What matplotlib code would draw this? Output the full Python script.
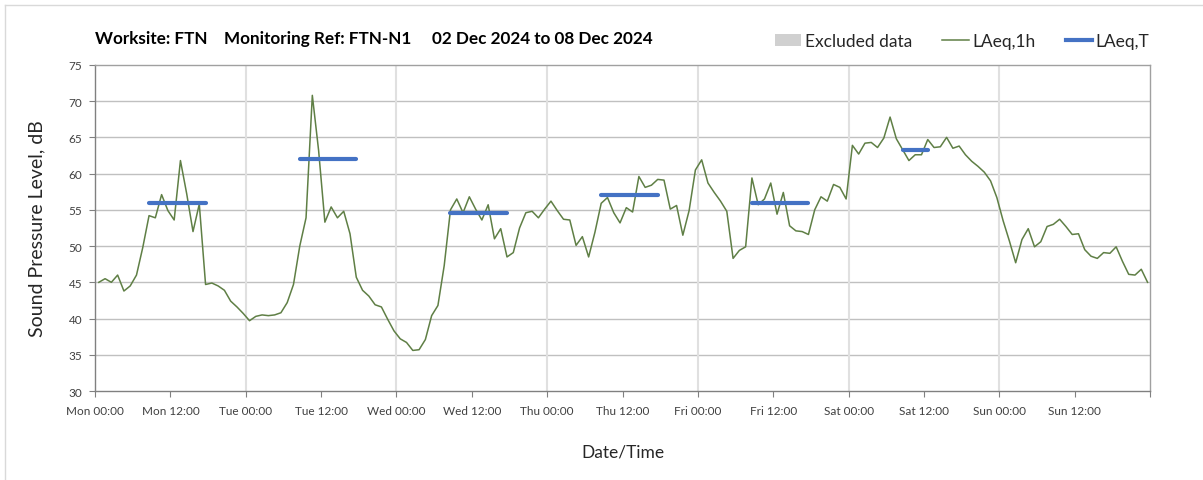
import numpy as np
import matplotlib
matplotlib.use("Agg")
import matplotlib.pyplot as plt
from matplotlib.patches import Patch
from matplotlib.lines import Line2D

# hourly LAeq,1h readings (dB), one list per day
mon = [45.0, 45.5, 45.0, 46.0, 43.8, 44.5, 46.0, 49.8, 54.2, 53.9, 57.1, 54.9,
       53.6, 61.8, 57.2, 52.0, 55.8, 44.7, 44.9, 44.5, 43.9, 42.4, 41.6, 40.7]
tue = [39.7, 40.3, 40.5, 40.4, 40.5, 40.8, 42.2, 44.7, 50.0, 53.9, 70.8, 63.2,
       53.3, 55.4, 53.9, 54.8, 51.7, 45.7, 43.9, 43.1, 41.9, 41.6, 39.9, 38.3]
wed = [37.2, 36.7, 35.6, 35.7, 37.1, 40.4, 41.8, 47.3, 55.0, 56.5, 54.6, 56.8,
       55.1, 53.6, 55.7, 51.0, 52.4, 48.5, 49.1, 52.5, 54.6, 54.8, 53.9, 55.1]
thu = [56.2, 54.9, 53.7, 53.6, 50.1, 51.3, 48.5, 51.9, 55.9, 56.7, 54.6, 53.2,
       55.3, 54.7, 59.6, 58.1, 58.4, 59.2, 59.1, 55.1, 55.6, 51.5, 54.9, 60.5]
fri = [61.9, 58.7, 57.4, 56.2, 54.8, 48.3, 49.4, 49.9, 59.4, 55.7, 56.5, 58.7,
       54.4, 57.4, 52.8, 52.1, 52.0, 51.6, 55.0, 56.8, 56.2, 58.5, 58.1, 56.5]
sat = [63.9, 62.7, 64.2, 64.3, 63.6, 64.9, 67.8, 64.8, 63.3, 61.8, 62.6, 62.6,
       64.7, 63.6, 63.7, 65.0, 63.5, 63.8, 62.6, 61.7, 61.0, 60.2, 59.0, 56.7]
sun = [53.5, 50.7, 47.7, 50.9, 52.4, 49.9, 50.6, 52.7, 53.0, 53.7, 52.7, 51.6,
       51.7, 49.5, 48.6, 48.3, 49.1, 49.0, 49.9, 47.9, 46.1, 46.0, 46.8, 45.0]

# LAeq,T over the working period of each day
laeqT_day = [0, 1, 2, 3, 4, 5]
laeqT_value = [56.0, 62.0, 54.5, 57.1, 55.9, 63.2]
laeqT_first_hour = [8, 8, 8, 8, 8, 8]
laeqT_last_hour = [17, 17, 17, 17, 17, 12]

tick_labels = ["Mon 00:00", "Mon 12:00", "Tue 00:00", "Tue 12:00", "Wed 00:00",
               "Wed 12:00", "Thu 00:00", "Thu 12:00", "Fri 00:00", "Fri 12:00",
               "Sat 00:00", "Sat 12:00", "Sun 00:00", "Sun 12:00", ""]

laeq_1h = np.array(mon + tue + wed + thu + fri + sat + sun)
hours = np.arange(len(laeq_1h)) + 0.6

plt.rcParams['font.family'] = ['Lato', 'DejaVu Sans']

fig = plt.figure(figsize=(12.03, 4.81), dpi=100)
ax = fig.add_axes([0.079, 0.185, 0.877, 0.678])

ax.plot(hours, laeq_1h, color='#5f7f45', lw=1.1, zorder=3)
for d, v, h0, h1 in zip(laeqT_day, laeqT_value, laeqT_first_hour, laeqT_last_hour):
    ax.plot([d * 24 + h0 + 0.6, d * 24 + h1 + 0.6], [v, v], color='#4472C4',
            lw=3, solid_capstyle='round', zorder=4)

ax.set_xlim(0, 168)
ax.set_ylim(30, 75)
ax.set_yticks(np.arange(30, 76, 5))
ax.set_xticks(np.arange(0, 169, 12))
ax.set_xticklabels(tick_labels)

# grid: horizontal every 5 dB, vertical at midnight only
for y in np.arange(35, 75, 5):
    ax.axhline(y, color='#c0c0c0', lw=1, zorder=1)
for x in np.arange(24, 168, 24):
    ax.axvline(x, color='#e0e0e0', lw=1.5, zorder=1)

for s in ax.spines.values():
    s.set_color('#a0a0a0')
    s.set_linewidth(1)
ax.spines['bottom'].set_color('#808080')
ax.spines['left'].set_color('#808080')

ax.tick_params(axis='both', direction='out', length=4, color='#808080',
               labelsize=8.5, labelcolor='#404040')
ax.tick_params(axis='x', pad=6)
ax.tick_params(axis='y', pad=5)

ax.set_ylabel('Sound Pressure Level, dB', fontsize=14, color='#262626', labelpad=17)
ax.set_xlabel('Date/Time', fontsize=12.5, color='#262626', labelpad=20)

fig.text(0.079, 0.918, 'Worksite: FTN    Monitoring Ref: FTN-N1     02 Dec 2024 to 08 Dec 2024',
         fontsize=12.3, fontweight='bold', color='#000000', va='center')

handles = [Patch(facecolor='#d0d0d0', edgecolor='none'),
           Line2D([], [], color='#5f7f45', lw=1.1),
           Line2D([], [], color='#4472C4', lw=3)]
fig.legend(handles, ['Excluded data', 'LAeq,1h', 'LAeq,T'], loc='center right',
           bbox_to_anchor=(0.968, 0.912), ncol=3, frameon=False, fontsize=12.5,
           handlelength=1.5, handletextpad=0.2, columnspacing=1.75,
           labelcolor='#262626')

# chart area border
fig.add_artist(Line2D([0.004, 0.004], [0.0, 0.988], color='#d9d9d9', lw=1,
                      transform=fig.transFigure))
fig.add_artist(Line2D([0.004, 1.0], [0.988, 0.988], color='#d9d9d9', lw=1,
                      transform=fig.transFigure))

fig.savefig('out.png', dpi=100)
